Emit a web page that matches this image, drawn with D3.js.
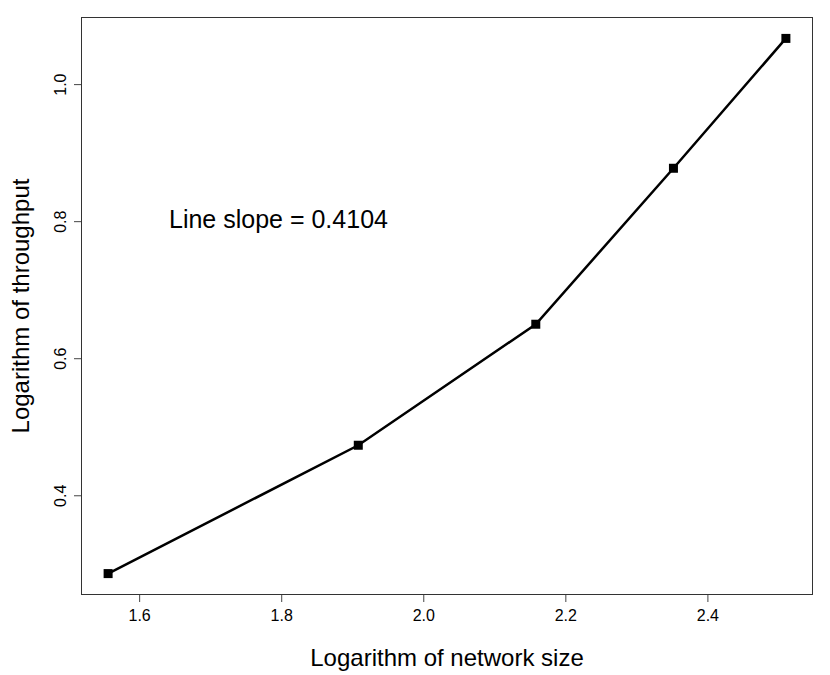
<!DOCTYPE html>
<html><head><meta charset="utf-8">
<script src="https://cdn.jsdelivr.net/npm/d3@7"></script>
<style>body{margin:0;background:#fff}svg{display:block}text{font-family:"Liberation Sans",Arial,sans-serif;fill:#000}</style>
</head><body><svg id="c" width="830" height="675"></svg>
<script>
const networkSizeLog = [1.5563, 1.9085, 2.1584, 2.3522, 2.5105];
const throughputLog = [0.2857, 0.4730, 0.6496, 0.8772, 1.0667];
const xTicks = [1.6, 1.8, 2.0, 2.2, 2.4];
const yTicks = [0.4, 0.6, 0.8, 1.0];
const annotation = "Line slope = 0.4104";

const svg = d3.select("#c");
const L = 81, R = 813, T = 17, B = 595;
const pad = (a) => { const [lo, hi] = d3.extent(a); const p = (hi - lo) * 0.04; return [lo - p, hi + p]; };
const x = d3.scaleLinear().domain(pad(networkSizeLog)).range([L, R]);
const y = d3.scaleLinear().domain(pad(throughputLog)).range([B, T]);
const FF = '"Liberation Sans",Arial,sans-serif';

svg.append("rect").attr("x", L + 0.5).attr("y", T + 0.5).attr("width", R - L - 1).attr("height", B - T - 1)
  .attr("fill", "none").attr("stroke", "#333").attr("stroke-width", 1);

const xAxis = svg.append("g").attr("transform", `translate(0,${B})`)
  .call(d3.axisBottom(x).tickValues(xTicks).tickFormat(d3.format(".1f")).tickSize(7).tickPadding(8));
xAxis.select(".domain").remove();
xAxis.selectAll("line").attr("stroke", "#444");
xAxis.selectAll("text").attr("font-size", 16).style("font-family", FF);

const yAxis = svg.append("g").attr("transform", `translate(${L},0)`)
  .call(d3.axisLeft(y).tickValues(yTicks).tickFormat(d3.format(".1f")).tickSize(7).tickPadding(8));
yAxis.select(".domain").remove();
yAxis.selectAll("line").attr("stroke", "#444");
yAxis.selectAll("text").attr("font-size", 16).style("font-family", FF)
  .attr("text-anchor", "middle").attr("x", 0).attr("dy", 0)
  .attr("transform", "translate(-15,0) rotate(-90)");

const pts = networkSizeLog.map((v, i) => [v, throughputLog[i]]);
svg.append("path").datum(pts)
  .attr("d", d3.line().x(d => x(d[0])).y(d => y(d[1])))
  .attr("fill", "none").attr("stroke", "#000").attr("stroke-width", 2.5);
svg.selectAll("rect.pt").data(pts).enter().append("rect").attr("class", "pt")
  .attr("x", d => x(d[0]) - 4.5).attr("y", d => y(d[1]) - 4.5)
  .attr("width", 9).attr("height", 9).attr("fill", "#000");

svg.append("text").attr("x", 169).attr("y", 228).attr("font-size", 25).text(annotation);

svg.append("text").attr("x", (L + R) / 2).attr("y", 666).attr("text-anchor", "middle")
  .attr("font-size", 24).text("Logarithm of network size");
svg.append("text").attr("transform", `translate(29,${(T + B) / 2}) rotate(-90)`).attr("text-anchor", "middle")
  .attr("font-size", 24).text("Logarithm of throughput");
</script></body></html>
